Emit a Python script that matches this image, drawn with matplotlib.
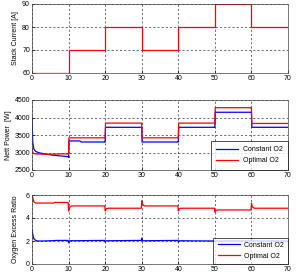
import matplotlib
matplotlib.use("Agg")
import matplotlib.pyplot as plt
import numpy as np

plt.rcParams['font.family'] = ['Liberation Sans', 'DejaVu Sans']

# Stack current (step profile)
cur_t = [0, 10, 10, 20, 20, 30, 30, 40, 40, 50, 50, 60, 60, 70]
cur_v = [60, 60, 70, 70, 80, 80, 70, 70, 80, 80, 90, 90, 80, 80]

# Net power
pc_t = [0, 0.2, 0.5, 1.0, 2, 4, 6, 8, 9.8, 10, 10.1, 13, 13.5, 19.9, 20, 20.1, 29.9, 30, 30.1, 39.9, 40, 40.1, 49.9, 50, 50.1, 59.9, 60, 60.1, 70]
pc_v = [4000, 3300, 3100, 3030, 2990, 2950, 2920, 2900, 2880, 2860, 3330, 3330, 3300, 3300, 3300, 3720, 3720, 3720, 3300, 3300, 3300, 3720, 3720, 3720, 4150, 4150, 4150, 3720, 3720]
po_t = [0, 0.2, 0.5, 1.0, 2, 4, 6, 8, 9.9, 10, 10.1, 19.9, 20, 20.1, 29.9, 30, 30.1, 39.9, 40, 40.1, 49.9, 50, 50.1, 59.9, 60, 60.1, 70]
po_v = [3100, 3000, 2970, 2960, 2955, 2950, 2955, 2960, 2960, 2960, 3420, 3420, 3420, 3840, 3840, 3840, 3420, 3420, 3420, 3840, 3840, 3840, 4280, 4280, 4280, 3830, 3830]

# Oxygen excess ratio
oc_t = [0, 0.2, 0.5, 1.0, 1.5, 3, 5, 7, 9.9, 10, 10.3, 19.9, 20, 20.3, 29.9, 30, 30.3, 39.9, 40, 40.3, 49.9, 50, 50.3, 59.9, 60, 60.3, 70]
oc_v = [3.0, 2.6, 2.2, 2.05, 2.0, 2.0, 2.02, 2.05, 2.05, 1.85, 2.02, 2.05, 1.9, 2.02, 2.05, 2.25, 2.02, 2.05, 1.9, 2.02, 2.0, 1.95, 2.0, 2.0, 2.2, 2.0, 2.0]
oo_t = [0, 0.2, 0.5, 1.0, 2, 6, 6.2, 9.9, 10, 10.3, 10.8, 19.9, 20, 20.3, 20.8, 29.9, 30, 30.3, 30.8, 39.9, 40, 40.3, 40.8, 49.9, 50, 50.3, 50.8, 59.9, 60, 60.3, 60.8, 70]
oo_v = [6.0, 5.8, 5.4, 5.3, 5.3, 5.3, 5.35, 5.35, 4.6, 4.95, 5.05, 5.05, 4.6, 4.8, 4.85, 4.85, 5.5, 5.15, 5.05, 5.05, 4.6, 4.8, 4.85, 4.85, 4.5, 4.65, 4.7, 4.7, 5.3, 4.95, 4.85, 4.85]

xticks = [0, 10, 20, 30, 40, 50, 60, 70]

fig = plt.figure(figsize=(2.96, 2.78), dpi=100)
W, H = 296, 278
def ax_at(l, t, r, b):
    return fig.add_axes([l / W, 1 - b / H, (r - l) / W, (b - t) / H])

ax1 = ax_at(32, 4, 288, 73)
ax2 = ax_at(32, 100, 288, 170)
ax3 = ax_at(32, 195, 288, 264)

fs = 5
for ax in (ax1, ax2, ax3):
    ax.set_xlim(0, 70)
    ax.set_xticks(xticks)
    ax.grid(True, color='#333333', linestyle=(0, (3, 3)), linewidth=0.5)
    ax.tick_params(labelsize=fs, direction='in', length=2, width=0.5, pad=1.5)
    for s in ax.spines.values():
        s.set_linewidth(0.5)
        s.set_color('#444444')
    ax.set_axisbelow(True)

ax1.plot(cur_t, cur_v, color='#ff0000', lw=0.9)
ax1.set_ylim(60, 90)
ax1.set_yticks([60, 70, 80, 90])
ax1.set_ylabel('Stack Current [A]', fontsize=fs, labelpad=2)

ax2.plot(pc_t, pc_v, color='#0000ff', lw=0.9, label='Constant O2')
ax2.plot(po_t, po_v, color='#ff0000', lw=0.9, label='Optimal O2')
ax2.set_ylim(2500, 4500)
ax2.set_yticks([2500, 3000, 3500, 4000, 4500])
ax2.set_ylabel('Nett Power  [W]', fontsize=fs, labelpad=2)

ax3.plot(oc_t, oc_v, color='#0000ff', lw=0.9, label='Constant O2')
ax3.plot(oo_t, oo_v, color='#ff0000', lw=0.9, label='Optimal O2')
ax3.set_ylim(0, 6)
ax3.set_yticks([0, 2, 4, 6])
ax3.set_ylabel('Oxygen Excess Ratio', fontsize=fs, labelpad=5)

for ax, bp in ((ax2, 0.8), (ax3, 0.6)):
    leg = ax.legend(loc='lower right', fontsize=fs, frameon=True, fancybox=False,
                    borderaxespad=0, handlelength=3.2, borderpad=bp, labelspacing=0.6,
                    handletextpad=0.6)
    leg.get_frame().set_edgecolor('black')
    leg.get_frame().set_linewidth(0.6)

fig.savefig('out.png', dpi=100)
